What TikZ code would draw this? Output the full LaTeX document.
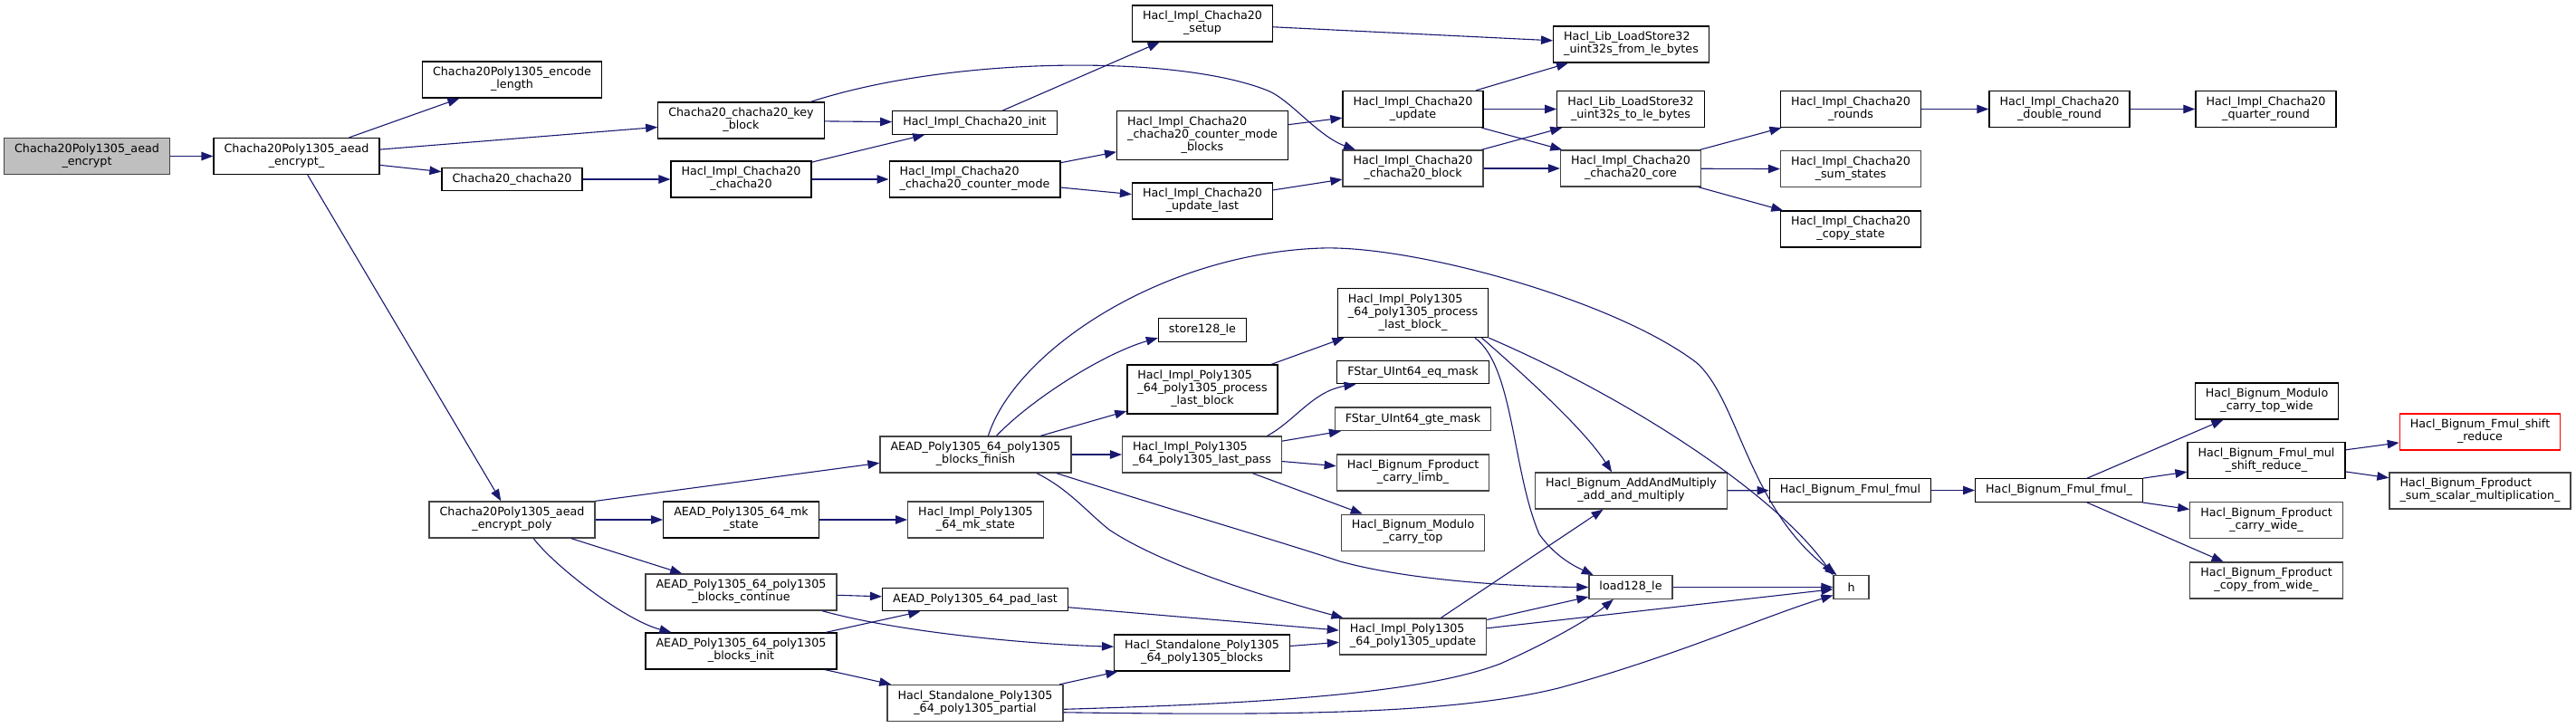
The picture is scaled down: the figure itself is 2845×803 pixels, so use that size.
\documentclass[tikz,border=0pt]{standalone}
\usepackage{fontspec}
\setmainfont{DejaVu Sans}
\usepackage{tikz}
\usetikzlibrary{arrows.meta,positioning}
\definecolor{navy}{HTML}{191970}
\definecolor{rootgray}{HTML}{BFBFBF}
\definecolor{edgegray}{HTML}{444444}
\newcommand{\fnl}[2]{\begin{tabular}{@{}l@{}}#1\\\multicolumn{1}{@{}c@{}}{#2}\end{tabular}}

\begin{document}
\begin{tikzpicture}[x=1pt,y=-1pt,
  node distance=25pt,
  box/.style={draw=black,line width=1.3pt,fill=white,inner xsep=11.5pt,inner ysep=6pt,
              minimum height=25.5pt,font=\fontsize{12.7}{14}\selectfont},
  gbox/.style={box,draw=edgegray},
  root/.style={box,draw=edgegray,fill=rootgray},
  trunc/.style={box,draw=red},
  arr/.style={-{Triangle[length=13pt,width=9.5pt]},line width=1.1pt,draw=navy}
]
\useasboundingbox (0,0) rectangle (2845,803);

\node[root] (enc) at (96,172.5) {\fnl{Chacha20Poly1305\_aead}{\_encrypt}};
\node[box] (encu) at (327.5,172.5) {\fnl{Chacha20Poly1305\_aead}{\_encrypt\_}};
\node[box] (elen) at (565.5,88) {\fnl{Chacha20Poly1305\_encode}{\_length}};
\node[box] (cc) at (565.5,198) {Chacha20\_chacha20};
\node[box] (kblk) at (818.5,133) {\fnl{Chacha20\_chacha20\_key}{\_block}};
\node[box] (icc) at (818.5,198) {\fnl{Hacl\_Impl\_Chacha20}{\_chacha20}};
\node[box] (init) at (1076.5,135.5) {Hacl\_Impl\_Chacha20\_init};
\node[box] (cmode) at (1076.5,198) {\fnl{Hacl\_Impl\_Chacha20}{\_chacha20\_counter\_mode}};
\node[box] (setup) at (1328,26) {\fnl{Hacl\_Impl\_Chacha20}{\_setup}};
\node[box] (cblks) at (1328,149.5) {\fnl{Hacl\_Impl\_Chacha20\\\_chacha20\_counter\_mode}{\_blocks}};
\node[box] (ulast) at (1328,222) {\fnl{Hacl\_Impl\_Chacha20}{\_update\_last}};
\node[box] (st128) at (1328,364.5) {store128\_le};
\node[box] (fromle) at (1801.5,49) {\fnl{Hacl\_Lib\_LoadStore32}{\_uint32s\_from\_le\_bytes}};
\node[box] (upd) at (1560.5,120.5) {\fnl{Hacl\_Impl\_Chacha20}{\_update}};
\node[box] (tole) at (1801,120.5) {\fnl{Hacl\_Lib\_LoadStore32}{\_uint32s\_to\_le\_bytes}};
\node[gbox] (cblk) at (1560.5,186) {\fnl{Hacl\_Impl\_Chacha20}{\_chacha20\_block}};
\node[gbox] (core) at (1801,186) {\fnl{Hacl\_Impl\_Chacha20}{\_chacha20\_core}};
\node[box] (rnds) at (2044,120.5) {\fnl{Hacl\_Impl\_Chacha20}{\_rounds}};
\node[gbox,below=of rnds] (sums) {\fnl{Hacl\_Impl\_Chacha20}{\_sum\_states}};
\node[box,below=of sums] (copys) {\fnl{Hacl\_Impl\_Chacha20}{\_copy\_state}};
\node[box] (dbl) at (2274.5,120.5) {\fnl{Hacl\_Impl\_Chacha20}{\_double\_round}};
\node[box] (qtr) at (2502.5,120.5) {\fnl{Hacl\_Impl\_Chacha20}{\_quarter\_round}};
\node[box] (plbu) at (1560.5,345.5) {\fnl{Hacl\_Impl\_Poly1305\\\_64\_poly1305\_process}{\_last\_block\_}};

\node[gbox] (epoly) at (565.5,574) {\fnl{Chacha20Poly1305\_aead}{\_encrypt\_poly}};
\node[box] (plb) at (1328,430) {\fnl{Hacl\_Impl\_Poly1305\\\_64\_poly1305\_process}{\_last\_block}};
\node[gbox] (fin) at (1077.5,502) {\fnl{AEAD\_Poly1305\_64\_poly1305}{\_blocks\_finish}};
\node[gbox] (lpass) at (1327.5,502) {\fnl{Hacl\_Impl\_Poly1305}{\_64\_poly1305\_last\_pass}};
\node[box] (mks) at (818.5,574) {\fnl{AEAD\_Poly1305\_64\_mk}{\_state}};
\node[gbox] (imks) at (1077.5,574) {\fnl{Hacl\_Impl\_Poly1305}{\_64\_mk\_state}};
\node[gbox] (bcont) at (818.5,654) {\fnl{AEAD\_Poly1305\_64\_poly1305}{\_blocks\_continue}};
\node[box] (pad) at (1077,662) {AEAD\_Poly1305\_64\_pad\_last};
\node[box] (binit) at (818.5,719) {\fnl{AEAD\_Poly1305\_64\_poly1305}{\_blocks\_init}};
\node[box] (sblk) at (1327.5,721) {\fnl{Hacl\_Standalone\_Poly1305}{\_64\_poly1305\_blocks}};
\node[gbox] (part) at (1077,776.5) {\fnl{Hacl\_Standalone\_Poly1305}{\_64\_poly1305\_partial}};
\node[box] (eqm) at (1560.5,411) {FStar\_UInt64\_eq\_mask};
\node[gbox,below=of eqm] (gtem) {FStar\_UInt64\_gte\_mask};
\node[gbox,below=of gtem] (climb) {\fnl{Hacl\_Bignum\_Fproduct}{\_carry\_limb\_}};
\node[gbox,below=of climb] (ctop) {\fnl{Hacl\_Bignum\_Modulo}{\_carry\_top}};
\node[gbox] (amul) at (1801.5,542) {\fnl{Hacl\_Bignum\_AddAndMultiply}{\_add\_and\_multiply}};
\node[box] (fmul) at (2043.5,541.5) {Hacl\_Bignum\_Fmul\_fmul};
\node[gbox] (ld) at (1801,648.5) {load128\_le};
\node[gbox,minimum width=39pt] (h) at (2044.5,648.5) {h};
\node[gbox] (pupd) at (1560.5,703) {\fnl{Hacl\_Impl\_Poly1305}{\_64\_poly1305\_update}};
\node[box] (fmulu) at (2274,541.5) {Hacl\_Bignum\_Fmul\_fmul\_};
\node[box] (ctopw) at (2503.5,443) {\fnl{Hacl\_Bignum\_Modulo}{\_carry\_top\_wide}};
\node[box] (mshift) at (2503,508.5) {\fnl{Hacl\_Bignum\_Fmul\_mul}{\_shift\_reduce\_}};
\node[gbox,below=of mshift] (cwide) {\fnl{Hacl\_Bignum\_Fproduct}{\_carry\_wide\_}};
\node[gbox,below=of cwide] (cfw) {\fnl{Hacl\_Bignum\_Fproduct}{\_copy\_from\_wide\_}};
\node[trunc] (shred) at (2739,477) {\fnl{Hacl\_Bignum\_Fmul\_shift}{\_reduce}};
\node[gbox] (ssm) at (2739,542) {\fnl{Hacl\_Bignum\_Fproduct}{\_sum\_scalar\_multiplication\_}};

\draw[arr] (enc) -- (encu);
\draw[arr] (encu) -- (elen);
\draw[arr] (encu) -- (kblk);
\draw[arr] (encu) -- (cc);
\draw[arr] (encu) -- (epoly);
\draw[arr] (cc) -- (icc);
\draw[arr] (kblk) -- (init);
\draw[arr] (kblk.15) .. controls (1050,62) and (1300,60) .. (1400,100)
  .. controls (1425,110) and (1455,150) .. (cblk.162);
\draw[arr] (icc) -- (init);
\draw[arr] (icc) -- (cmode);
\draw[arr] (init) -- (setup);
\draw[arr] (cmode) -- (cblks);
\draw[arr] (cmode) -- (ulast);
\draw[arr] (setup) -- (fromle);
\draw[arr] (cblks) -- (upd);
\draw[arr] (ulast) -- (cblk);
\draw[arr] (upd) -- (fromle);
\draw[arr] (upd) -- (tole);
\draw[arr] (upd) -- (core);
\draw[arr] (cblk) -- (tole);
\draw[arr] (cblk) -- (core);
\draw[arr] (core) -- (rnds);
\draw[arr] (core) -- (sums);
\draw[arr] (core) -- (copys);
\draw[arr] (rnds) -- (dbl);
\draw[arr] (dbl) -- (qtr);

\draw[arr] (epoly.north east) -- (fin.185);
\draw[arr] (epoly) -- (mks);
\draw[arr] (epoly) -- (bcont);
\draw[arr] (epoly.-41) .. controls (612,625) and (690,685) .. (binit.165);
\draw[arr] (mks) -- (imks);
\draw[arr] (fin.42) .. controls (1140,440) and (1220,390) .. (st128.190);
\draw[arr] (fin) -- (plb);
\draw[arr] (fin) -- (lpass);
\draw[arr] (fin.56) .. controls (1120,390) and (1280,280) .. (1460,274)
  .. controls (1560,271) and (1780,330) .. (1873,400)
  .. controls (1920,440) and (1930,560) .. (h.140);
\draw[arr] (fin.-13) .. controls (1300,565) and (1420,600) .. (1480,620)
  .. controls (1560,642) and (1680,648) .. (ld.west);
\draw[arr] (fin.-17.5) .. controls (1180,540) and (1200,565) .. (1225,585)
  .. controls (1285,625) and (1400,660) .. (pupd.165);
\draw[arr] (plb) -- (plbu);
\draw[arr] (plbu.-22) .. controls (1672,405) and (1670,520) .. (1700,590)
  .. controls (1720,618) and (1745,628) .. (ld.162);
\draw[arr] (plbu.-20) .. controls (1690,420) and (1750,475) .. (amul.136);
\draw[arr] (plbu.south east) .. controls (1800,440) and (1960,545) .. (h.north west);
\draw[arr] (lpass.16) .. controls (1430,465) and (1450,432) .. (eqm.192);
\draw[arr] (lpass) -- (gtem);
\draw[arr] (lpass) -- (climb);
\draw[arr] (lpass) -- (ctop);
\draw[arr] (amul) -- (fmul);
\draw[arr] (fmul) -- (fmulu);
\draw[arr] (fmulu) -- (ctopw);
\draw[arr] (fmulu) -- (mshift);
\draw[arr] (fmulu) -- (cwide);
\draw[arr] (fmulu) -- (cfw);
\draw[arr] (mshift) -- (shred);
\draw[arr] (mshift) -- (ssm);
\draw[arr] (ld) -- (h);
\draw[arr] (pupd) -- (amul);
\draw[arr] (pupd) -- (ld);
\draw[arr] (pupd) -- (h);
\draw[arr] (part.-4) .. controls (1350,778) and (1560,770) .. (1657,733)
  .. controls (1720,705) and (1760,680) .. (ld.215);
\draw[arr] (part.-6) .. controls (1400,790) and (1600,790) .. (1721,760)
  .. controls (1850,725) and (1950,680) .. (h.204);
\draw[arr] (part) -- (sblk);
\draw[arr] (sblk) -- (pupd);
\draw[arr] (bcont) -- (pad);
\draw[arr] (bcont.-13) .. controls (1000,700) and (1150,712) .. (sblk.176);
\draw[arr] (binit) -- (pad);
\draw[arr] (binit) -- (part);
\draw[arr] (pad) -- (pupd);
\end{tikzpicture}
\end{document}
